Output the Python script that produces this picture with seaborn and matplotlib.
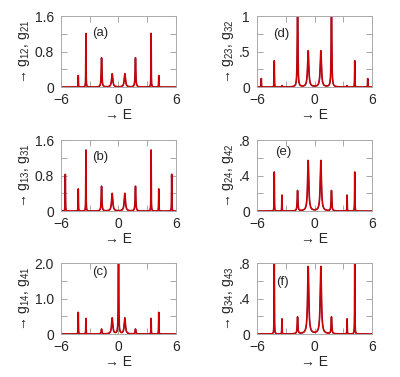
import numpy as np
import pandas as pd
import matplotlib
matplotlib.use("Agg")
import matplotlib.pyplot as plt
import seaborn as sns

# energy levels (peak positions) and their half widths
levels = [-5.55, -4.2, -3.4, -1.77, -0.66, 0.0, 0.66, 1.77, 3.4, 4.2, 5.55]
widths = [0.015, 0.015, 0.015, 0.04, 0.075, 0.03, 0.075, 0.04, 0.015, 0.015, 0.015]

# peak heights (0 = no peak)
heights_a = [0, 0.26, 1.21, 0.66, 0.30, 0, 0.30, 0.66, 1.21, 0.26, 0]
heights_b = [0.83, 0.50, 1.38, 0.56, 0.40, 0, 0.40, 0.56, 1.38, 0.50, 0.83]
heights_c = [0, 0.61, 0.44, 0.14, 0.45, 2.1, 0.45, 0.14, 0.44, 0.61, 0]
heights_d = [0.12, 0.37, 0.02, 1.05, 0.51, 0, 0.51, 1.05, 0.02, 0.37, 0.12]
heights_e = [0, 0.44, 0.18, 0.23, 0.57, 0, 0.57, 0.23, 0.18, 0.44, 0]
heights_f = [0, 0.85, 0.17, 0.19, 0.76, 0, 0.76, 0.19, 0.17, 0.85, 0]

panels = [
    ("(a)", heights_a, "12", "21", 1.6, [0, 0.4, 0.8, 1.2, 1.6], ["0", "", "0.8", "", "1.6"]),
    ("(b)", heights_b, "13", "31", 1.6, [0, 0.4, 0.8, 1.2, 1.6], ["0", "", "0.8", "", "1.6"]),
    ("(c)", heights_c, "14", "41", 2.0, [0, 0.5, 1.0, 1.5, 2.0], ["0", "", "1.0", "", "2.0"]),
    ("(d)", heights_d, "23", "32", 1.0, [0, 0.25, 0.5, 0.75, 1.0], ["0", "", ".5", "", "1"]),
    ("(e)", heights_e, "24", "42", 0.8, [0, 0.2, 0.4, 0.6, 0.8], ["0", "", ".4", "", ".8"]),
    ("(f)", heights_f, "34", "43", 0.8, [0, 0.2, 0.4, 0.6, 0.8], ["0", "", ".4", "", ".8"]),
]
label_pos = [(0.27, 0.76), (0.27, 0.76), (0.27, 0.87), (0.14, 0.75), (0.155, 0.84), (0.17, 0.73)]

sns.set_style("ticks")
plt.rcParams['font.family'] = ['Liberation Sans', 'DejaVu Sans']
plt.rcParams['mathtext.default'] = 'regular'

fig = plt.figure(figsize=(4.0, 3.77), dpi=100)
lefts = [0.1525, 0.6425]
bottoms = [0.769, 0.440, 0.114]

E = np.linspace(-6, 6, 8001)
for i, (tag, h, s1, s2, ymax, yt, ytl) in enumerate(panels):
    col, row = divmod(i, 3)
    ax = fig.add_axes([lefts[col], bottoms[row], 0.2875, 0.188])
    g = np.zeros_like(E)
    for c, w, hh in zip(levels, widths, h):
        g += hh * w**2 / ((E - c)**2 + w**2)
    df = pd.DataFrame({"E": E, "g": g})
    sns.lineplot(data=df, x="E", y="g", ax=ax, color="#9a0c22", lw=1.2)
    sns.lineplot(data=df, x="E", y="g", ax=ax, color="#d40000", lw=0.7)
    ax.set_xlim(-6, 6)
    ax.set_ylim(0, ymax)
    ax.set_xticks([-6, -3, 0, 3, 6])
    ax.set_xticklabels(["\u22126", "", "0", "", "6"])
    ax.set_yticks(yt)
    ax.set_yticklabels(ytl)
    ax.tick_params(direction="in", length=4, width=0.6, color="#999999",
                   top=True, right=True, labelsize=10)
    ax.tick_params(axis="x", pad=4)
    ax.tick_params(axis="y", pad=5)
    for sp in ax.spines.values():
        sp.set_color("#aaaaaa")
        sp.set_linewidth(0.7)
    ax.set_xlabel("\u2192 E", fontsize=10, labelpad=1)
    ax.set_ylabel("\u2192 g$_{%s}$, g$_{%s}$" % (s1, s2), fontsize=10, labelpad=2)
    ax.text(label_pos[i][0], label_pos[i][1], tag, transform=ax.transAxes,
            fontsize=9.5, va="center", ha="left")

fig.savefig("out.png", dpi=100)
